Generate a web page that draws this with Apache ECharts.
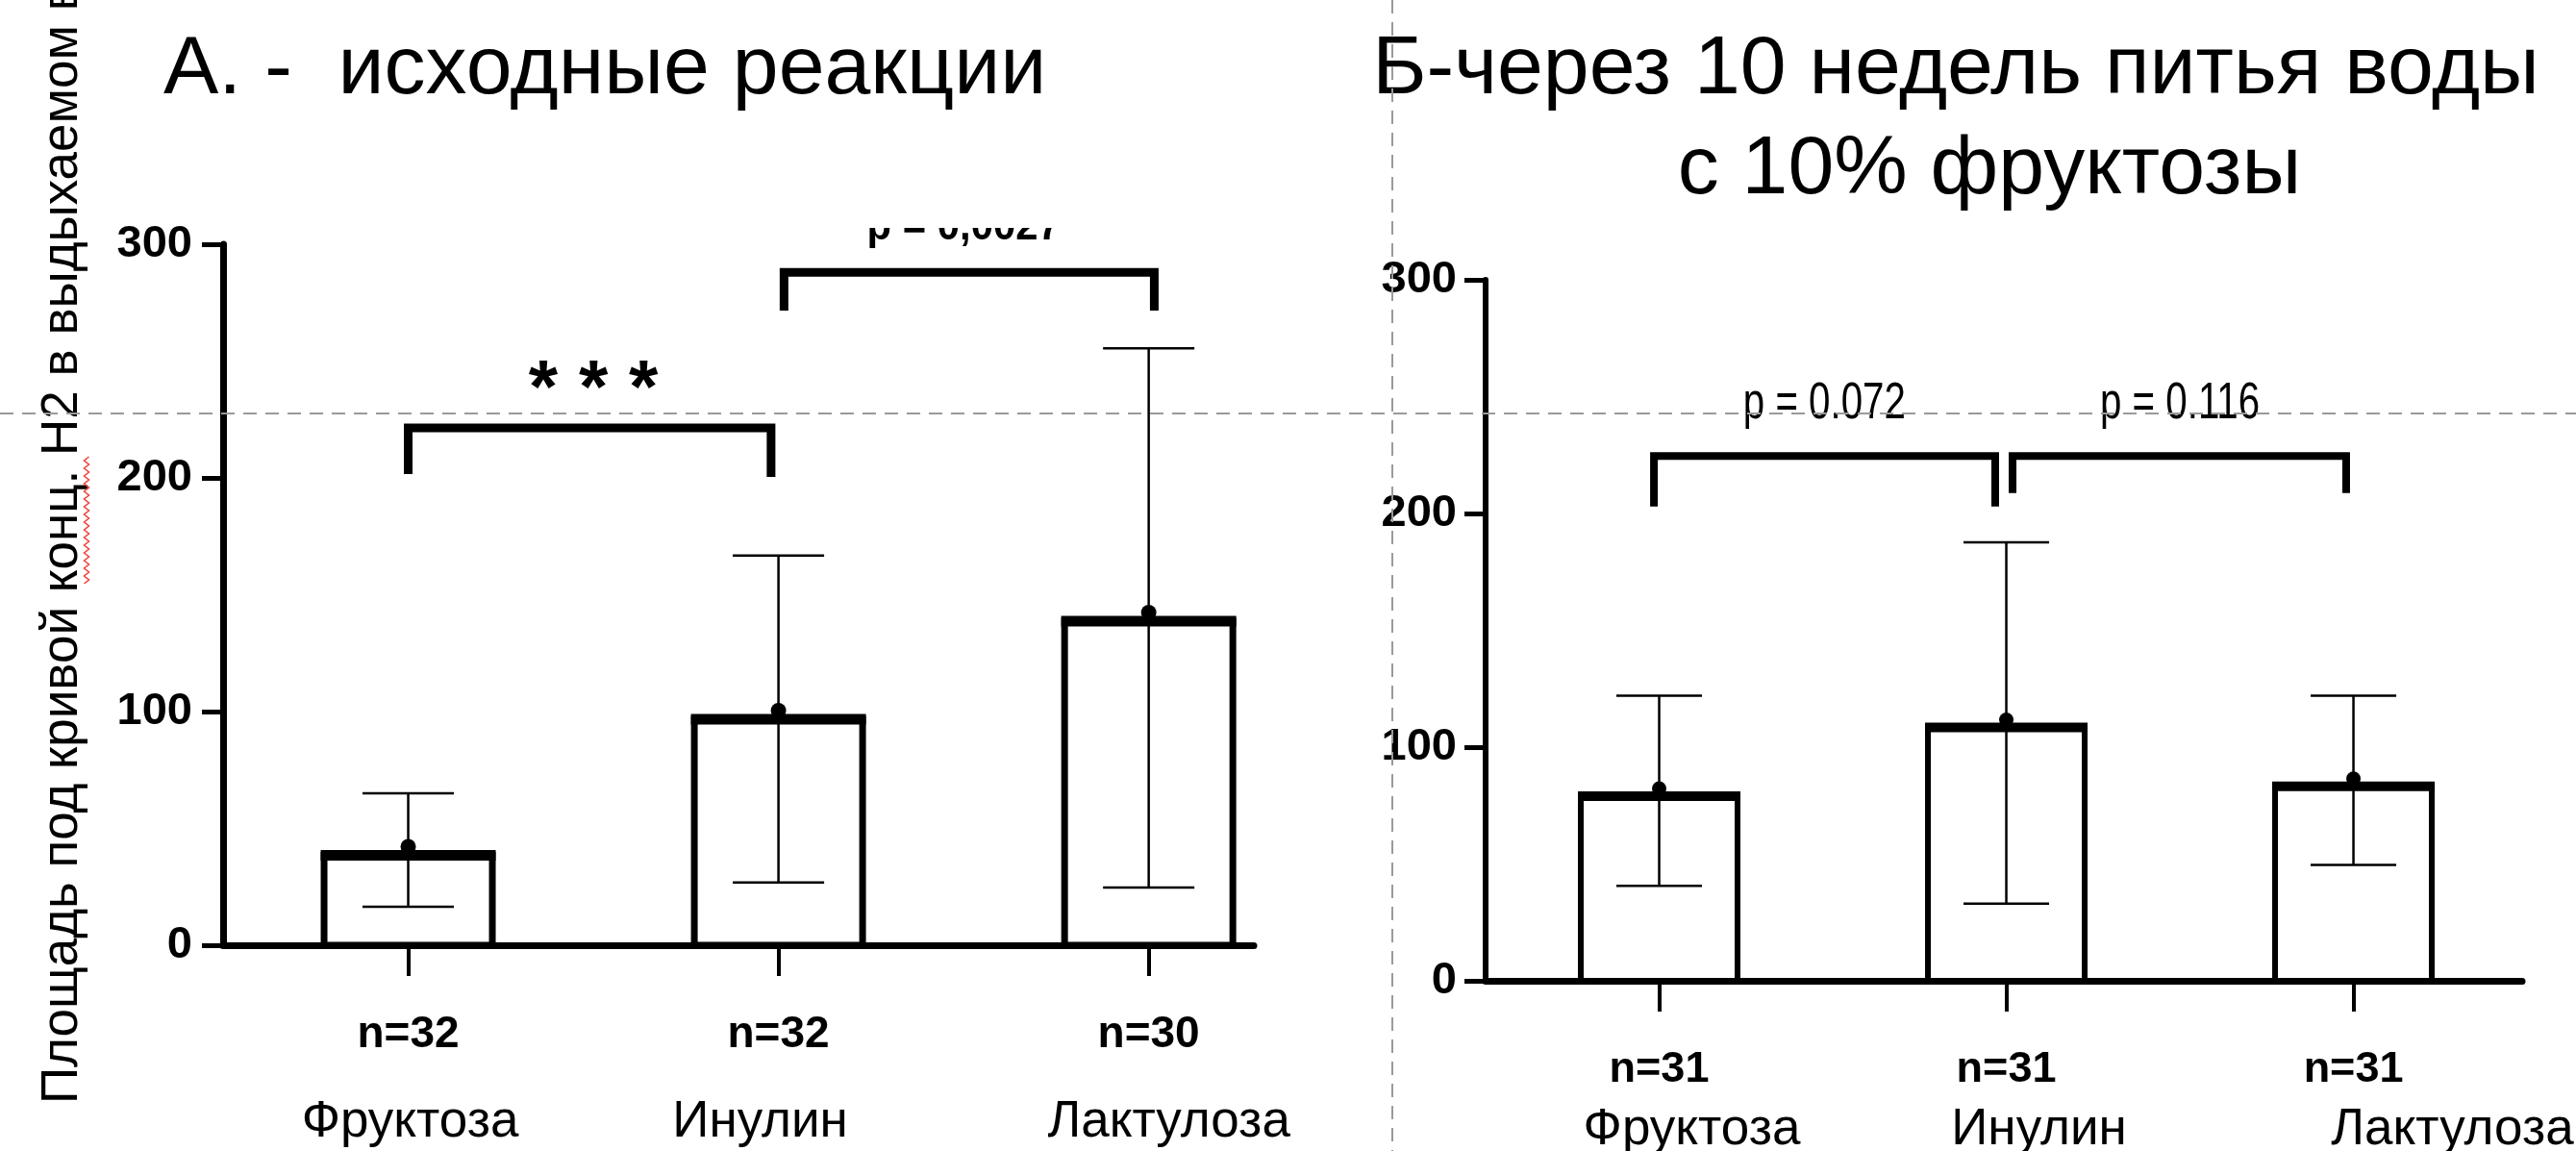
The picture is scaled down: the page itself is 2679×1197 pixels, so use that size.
<!DOCTYPE html>
<html><head><meta charset="utf-8">
<script src="https://cdn.jsdelivr.net/npm/echarts@6/dist/echarts.min.js"></script>
<style>html,body{margin:0;padding:0;background:#fff}#c{width:2679px;height:1197px}</style>
</head><body><div id="c"></div>
<script>
// ---------------- data ----------------
const categories = ['Фруктоза', 'Инулин', 'Лактулоза'];
const nLabelsA = ['n=32', 'n=32', 'n=30'];
const nLabelsB = ['n=31', 'n=31', 'n=31'];
const meanA = [38.5, 96.7, 138.7];
const lowA  = [16.5, 26.9, 24.7];
const highA = [65, 166.8, 255.5];
const meanB = [79, 108.4, 83.2];
const lowB  = [40.6, 33, 49.6];
const highB = [122, 187.7, 122];
const yTicks = [0, 100, 200, 300];
// significance brackets: [xFrom, xTo, yTop, yLegLeftEnd, yLegRightEnd]
const bracketsA = [[0, 0.98, 221.4, 201.6, 200.4], [1.015, 2.015, 288, 271.6, 271.6]];
const bracketsB = [[-0.015, 0.968, 224.6, 203, 203], [1.018, 1.979, 224.6, 208.7, 208.7]];
// annotation anchors [x, y] and texts
const notePosA = [[0.5, 244], [1.5, 300.8]];
const noteTextA = ['* * *', 'p = 0,0027'];
const notePosB = [[0.476, 239.2], [1.5, 239.2]];
const noteTextB = ['p = 0.072', 'p = 0.116'];
const titleA = 'А. -  исходные реакции';
const titleB1 = 'Б-через 10 недель питья воды';
const titleB2 = 'с 10% фруктозы';
const yAxisName = 'Площадь под кривой конц. Н2 в выдыхаемом воздухе';

// ---------------- styles ----------------
const SANS = '"Liberation Sans", Arial, sans-serif';
const styleA = {barW: 175, barLine: 7, topLine: 11, errLine: 2.5, capW: 95, dotR: 8, dotLift: 9, brLine: 9};
const styleB = {barW: 163, barLine: 6, topLine: 10, errLine: 2.5, capW: 89, dotR: 7.5, dotLift: 8, brLine: 8};
const noteStyleA = [
  {font: 'bold 78px ' + SANS, dy: 17, sx: 1},
  {font: 'bold 44px ' + SANS, dy: -15.2, sx: 0.95, mask: true}
];
const noteStyleB = [
  {font: '53px ' + SANS, dy: -18.4, sx: 0.76},
  {font: '53px ' + SANS, dy: -18.4, sx: 0.76}
];
const nameOffsetA = [2, -19, 21];
const nameOffsetB = [34, 34, 103];

function barData(m, lo, hi) { return m.map((v, i) => [i, v, lo[i], hi[i]]); }

function barRenderer(st) {
  return function (params, api) {
    const i = api.value(0), m = api.value(1), lo = api.value(2), hi = api.value(3);
    const base = api.coord([i, 0]);
    const top = api.coord([i, m]);
    const pLo = api.coord([i, lo]);
    const pHi = api.coord([i, hi]);
    const x = top[0], hw = st.barW / 2, cw = st.capW / 2;
    const ln = (x1, y1, x2, y2, w) => ({type: 'line', shape: {x1, y1, x2, y2}, style: {stroke: '#000', lineWidth: w}});
    return {type: 'group', children: [
      {type: 'rect', shape: {x: x - hw, y: top[1], width: st.barW, height: base[1] - top[1]},
       style: {fill: '#fff', stroke: '#000', lineWidth: st.barLine}},
      ln(x - hw - st.barLine / 2, top[1], x + hw + st.barLine / 2, top[1], st.topLine),
      ln(x, pHi[1], x, pLo[1], st.errLine),
      ln(x - cw, pHi[1], x + cw, pHi[1], st.errLine),
      ln(x - cw, pLo[1], x + cw, pLo[1], st.errLine),
      {type: 'circle', shape: {cx: x, cy: top[1] - st.dotLift, r: st.dotR}, style: {fill: '#000'}}
    ]};
  };
}

function bracketRenderer(st) {
  return function (params, api) {
    const x1 = api.value(0), x2 = api.value(1), yt = api.value(2), yl = api.value(3), yr = api.value(4);
    const pts = [api.coord([x1, yl]), api.coord([x1, yt]), api.coord([x2, yt]), api.coord([x2, yr])];
    return {type: 'polyline', shape: {points: pts},
      style: {stroke: '#000', fill: null, lineWidth: st.brLine, lineJoin: 'miter', lineCap: 'butt'}};
  };
}

function noteRenderer(texts, styles) {
  return function (params, api) {
    const p = api.coord([api.value(0), api.value(1)]);
    const s = styles[params.dataIndex];
    const children = [{type: 'text', x: p[0], y: p[1] + s.dy, scaleX: s.sx,
      style: {text: texts[params.dataIndex], font: s.font, fill: '#000', align: 'center', verticalAlign: 'middle'}}];
    if (s.mask) {
      children.push({type: 'rect', shape: {x: p[0] - 130, y: p[1] - 115, width: 260, height: 100},
        style: {fill: '#fff'}});
    }
    return {type: 'group', children};
  };
}

function nameRich(offsets, size) {
  const rich = {};
  offsets.forEach((o, i) => {
    rich['c' + i] = {fontFamily: SANS, fontSize: size, color: '#000', lineHeight: 56,
      padding: o >= 0 ? [0, 0, 0, 2 * o] : [0, -2 * o, 0, 0]};
  });
  return rich;
}

function xAxesFor(gridIndex, max, nLabels, nFont, offsets, nameMargin) {
  const common = {type: 'value', gridIndex, position: 'bottom', min: -0.5, max, splitLine: {show: false}};
  return [
    Object.assign({}, common, {
      axisLine: {show: true, onZero: false, lineStyle: {color: '#000', width: 7}},
      axisTick: {show: true, customValues: [0, 1, 2], length: 32, lineStyle: {color: '#000', width: 4}},
      axisLabel: {customValues: [0, 1, 2], margin: 70, color: '#000', fontWeight: 'bold',
        fontFamily: SANS, fontSize: nFont, lineHeight: 46,
        formatter: v => nLabels[Math.round(v)]}
    }),
    Object.assign({}, common, {
      axisLine: {show: false, onZero: false}, axisTick: {show: false},
      axisLabel: {customValues: [0, 1, 2], margin: nameMargin,
        formatter: v => { const i = Math.round(v); return '{c' + i + '|' + categories[i] + '}'; },
        rich: nameRich(offsets, 53)}
    })
  ];
}

function yAxisFor(gridIndex, margin, lw) {
  return {type: 'value', gridIndex, position: 'left', min: yTicks[0], max: yTicks[yTicks.length - 1], interval: 100,
    splitLine: {show: false},
    axisLine: {show: true, onZero: false, lineStyle: {color: '#000', width: lw}},
    axisTick: {show: true, length: 22, lineStyle: {color: '#000', width: 5}},
    axisLabel: {margin, color: '#000', fontWeight: 'bold', fontFamily: SANS, fontSize: 47}};
}

const chart = echarts.init(document.getElementById('c'), null, {renderer: 'canvas'});

const squiggle = [];
for (let k = 0; k <= 33; k++) squiggle.push([90 + (k % 2 ? 2.5 : -2.5), 607 - k * 4]);

const option = {
  animation: false,
  backgroundColor: '#fff',
  grid: [
    {left: 232, right: 1375, top: 254, bottom: 214, containLabel: false, outerBoundsMode: 'none'},
    {left: 1545, right: 56, top: 291, bottom: 177, containLabel: false, outerBoundsMode: 'none'}
  ],
  xAxis: [
    ...xAxesFor(0, 2.284, nLabelsA, 46, nameOffsetA, 156),
    ...xAxesFor(1, 2.486, nLabelsB, 45, nameOffsetB, 127)
  ],
  yAxis: [yAxisFor(0, 32, 7), yAxisFor(1, 30, 6)],
  series: [
    {type: 'custom', xAxisIndex: 0, yAxisIndex: 0, clip: false, data: barData(meanA, lowA, highA),
     encode: {x: 0, y: [1, 2, 3]}, renderItem: barRenderer(styleA), z: 3},
    {type: 'custom', xAxisIndex: 0, yAxisIndex: 0, clip: false, data: bracketsA,
     encode: {x: [0, 1], y: [2, 3, 4]}, renderItem: bracketRenderer(styleA), z: 3},
    {type: 'custom', xAxisIndex: 0, yAxisIndex: 0, clip: false, data: notePosA,
     encode: {x: 0, y: 1}, renderItem: noteRenderer(noteTextA, noteStyleA), z: 4},
    {type: 'custom', xAxisIndex: 2, yAxisIndex: 1, clip: false, data: barData(meanB, lowB, highB),
     encode: {x: 0, y: [1, 2, 3]}, renderItem: barRenderer(styleB), z: 3},
    {type: 'custom', xAxisIndex: 2, yAxisIndex: 1, clip: false, data: bracketsB,
     encode: {x: [0, 1], y: [2, 3, 4]}, renderItem: bracketRenderer(styleB), z: 3},
    {type: 'custom', xAxisIndex: 2, yAxisIndex: 1, clip: false, data: notePosB,
     encode: {x: 0, y: 1}, renderItem: noteRenderer(noteTextB, noteStyleB), z: 4}
  ],
  graphic: [
    {type: 'text', x: 170, y: 73, z: 50,
     style: {text: titleA, font: '86px ' + SANS, fill: '#000', align: 'left', verticalAlign: 'middle'}},
    {type: 'text', x: 2034, y: 73, z: 50,
     style: {text: titleB1, font: '86px ' + SANS, fill: '#000', align: 'center', verticalAlign: 'middle'}},
    {type: 'text', x: 2069, y: 177, z: 50,
     style: {text: titleB2, font: '86px ' + SANS, fill: '#000', align: 'center', verticalAlign: 'middle'}},
    {type: 'text', x: 65, y: 1148, rotation: Math.PI / 2, z: 50,
     style: {text: yAxisName, font: '53px ' + SANS, fill: '#000', align: 'left', verticalAlign: 'middle'}},
    {type: 'polyline', z: 60, shape: {points: squiggle}, style: {stroke: '#f0463c', lineWidth: 1.6, fill: null}},
    {type: 'line', z: 100, shape: {x1: 0, y1: 430, x2: 2679, y2: 430},
     style: {stroke: '#9a9a9a', lineWidth: 2, lineDash: [14, 9]}},
    {type: 'line', z: 100, shape: {x1: 1448, y1: 0, x2: 1448, y2: 1197},
     style: {stroke: '#9a9a9a', lineWidth: 2, lineDash: [14, 9]}}
  ]
};
chart.setOption(option);
</script>
</body></html>
